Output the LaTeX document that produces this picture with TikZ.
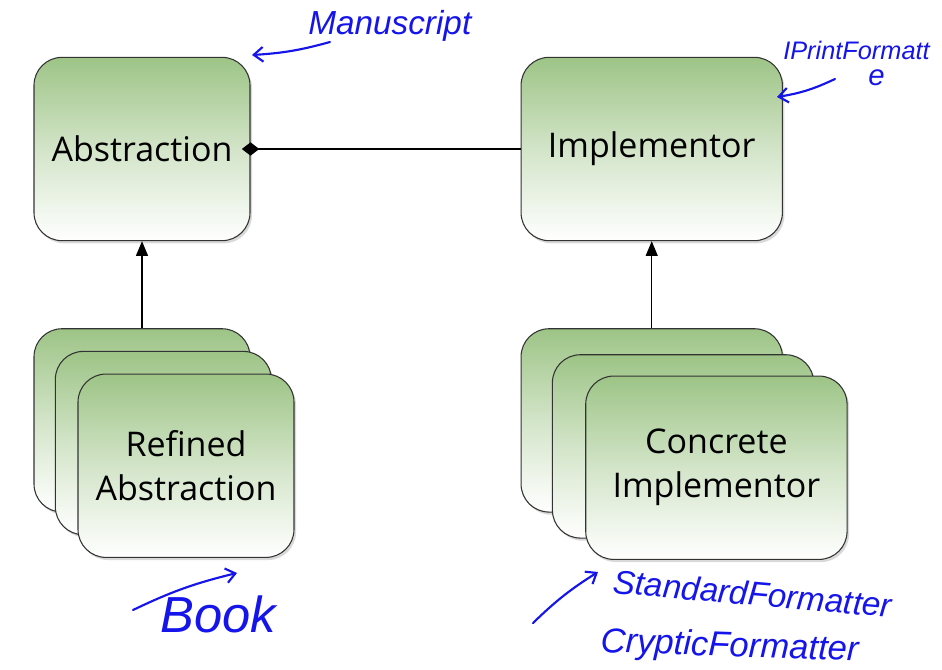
\documentclass[tikz,border=0pt]{standalone}
\usepackage{fontspec}
\setmainfont{Open Sans}
\newfontfamily\handfont{Liberation Sans}
\usetikzlibrary{arrows.meta, positioning, shadows}
\definecolor{boxgreen}{RGB}{157,196,134}
\definecolor{inkblue}{RGB}{20,20,235}
\begin{document}
\begin{tikzpicture}[x=0.75pt, y=-0.75pt,
    block/.style = {draw=black!80, line width=0.8pt, rounded corners=21pt,
        top color=boxgreen, bottom color=white, middle color=boxgreen!45,
        minimum width=162pt, minimum height=137.5pt, align=center,
        font=\fontsize{25.5}{33}\selectfont,
        drop shadow={shadow xshift=1.5pt, shadow yshift=-2pt, opacity=0.3}},
    wide/.style = {minimum width=196pt},
    note/.style = {text=inkblue, inner sep=0pt, anchor=base west},
    ink/.style = {draw=inkblue, line width=1.6pt, line cap=round,
        -{Straight Barb[length=7pt, width=11pt]}}]
    \useasboundingbox (0,0) rectangle (942,670);

    % the two abstractions
    \node[block] (abs) at (142,149) {Abstraction};
    \node[block, wide, right=202.5pt of abs] (impl) {Implementor};

    % stacks of subclasses
    \node[block, below=65.25pt of abs] (refA) {};
    \node[block, xshift=16pt, yshift=-17pt] (refB) at (refA) {};
    \node[block, xshift=17pt, yshift=-17pt] (refC) at (refB) {Refined\\Abstraction};

    \node[block, wide, below=65.25pt of impl] (conA) {};
    \node[block, wide, xshift=23.5pt, yshift=-19.5pt] (conB) at (conA) {};
    \node[block, wide, xshift=25pt, yshift=-16pt] (conC) at (conB) {Concrete\\Implementor};

    \draw[{Diamond[length=13pt, width=10pt]}-, line width=0.8pt, shorten <=-6.5pt] (abs) -- (impl);
    \draw[-{Triangle[length=11pt, width=9pt]}, line width=0.8pt] (refA) -- (abs);
    \draw[-{Triangle[length=11pt, width=9pt]}, line width=0.8pt] (conA) -- (impl);

    % hand written notes
    \node[note, font=\handfont\itshape\fontsize{25}{28}\selectfont] (manu) at (308,35) {Manuscript};
    \node[note, font=\handfont\itshape\fontsize{19}{22}\selectfont] (iprint) at (783,60) {IPrintFormatt};
    \node[note, font=\handfont\itshape\fontsize{22}{26}\selectfont] (iprintE) at (868,86) {e};
    \node[note, font=\handfont\itshape\fontsize{38}{42}\selectfont] (book) at (160,632) {Book};
    \node[note, rotate=-5, font=\handfont\itshape\fontsize{25}{30}\selectfont] (stdf) at (612,593) {StandardFormatter};
    \node[note, rotate=-2, font=\handfont\itshape\fontsize{26}{30}\selectfont] (cryf) at (600,652) {CrypticFormatter};

    \coordinate (manuTail) at (330,42);
    \coordinate (manuHead) at (252,55);
    \coordinate (iprintTail) at (835,79);
    \coordinate (iprintHead) at (777,97);
    \coordinate (bookTail) at (133,610);
    \coordinate (bookHead) at (237,573);
    \coordinate (stdTail) at (533,623);
    \coordinate (stdHead) at (598,572);

    \draw[ink] (manuTail) to[bend left=6] (manuHead);
    \draw[ink] (iprintTail) to[bend left=8] (iprintHead);
    \draw[ink] (bookTail) to[bend left=6] (bookHead);
    \draw[ink] (stdTail) to[bend left=6] (stdHead);
\end{tikzpicture}
\end{document}
